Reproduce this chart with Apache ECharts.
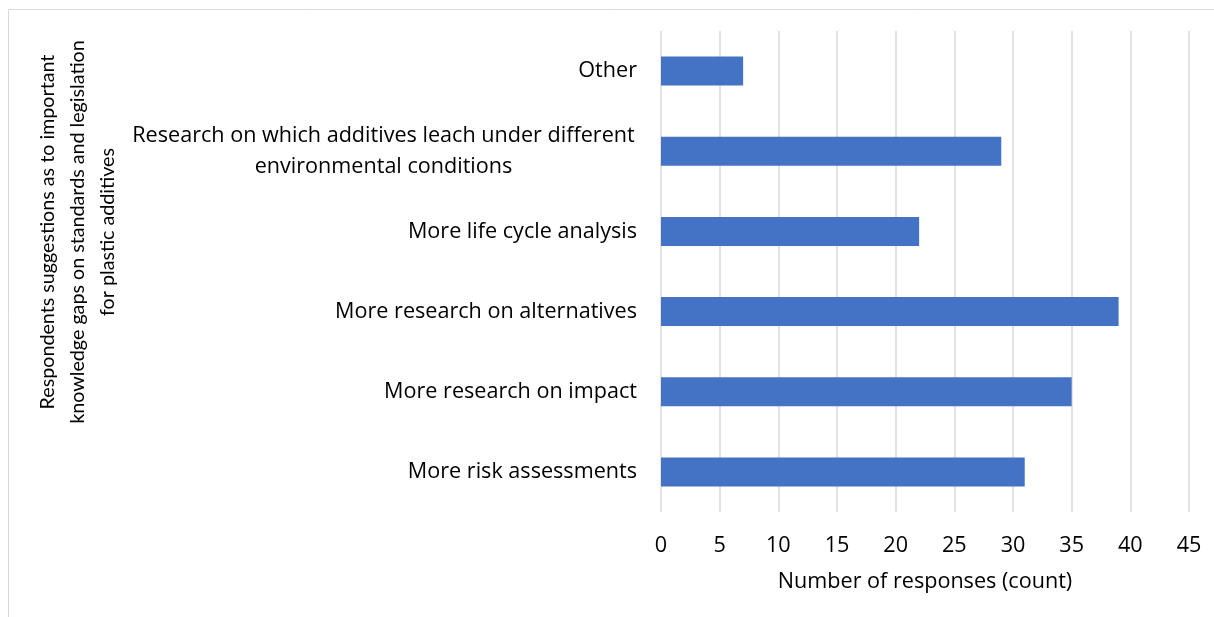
<!DOCTYPE html>
<html>
<head>
<meta charset="utf-8">
<script src="https://cdn.jsdelivr.net/npm/echarts@6/dist/echarts.min.js"></script>
<style>
  html, body { margin: 0; padding: 0; background: #fff; }
  #chart { width: 1214px; height: 617px; }
</style>
</head>
<body>
<div id="chart"></div>
<script>
// top to bottom, as in the figure
const categories = [
  'Other',
  'Research on which additives leach under different\nenvironmental conditions',
  'More life cycle analysis',
  'More research on alternatives',
  'More research on impact',
  'More risk assessments',
]
const responses = [7, 29, 22, 39, 35, 31]
const xTicks = { min: 0, max: 45, interval: 5 }

const FONT = 'Lato'
const WIDE = 'Open Sans'
const SIZE = 21.6
const chart = echarts.init(document.getElementById('chart'))

chart.setOption({
  animation: false,
  grid: { left: 661, right: 25, top: 31, bottom: 105, containLabel: false },
  graphic: [
    {
      type: 'rect',
      shape: { x: 8.5, y: 9.5, width: 1240, height: 640 },
      style: { fill: 'none', stroke: '#d9d9d9', lineWidth: 1 },
      silent: true,
    },
    {
      type: 'text',
      x: 78,
      y: 232,
      rotation: Math.PI / 2,
      style: {
        text: 'Respondents suggestions as to important\nknowledge gaps on standards and legislation\nfor plastic additives',
        font: '19.7px ' + FONT,
        fill: '#000',
        align: 'center',
        verticalAlign: 'middle',
        lineHeight: 30,
      },
    },
  ],
  xAxis: {
    type: 'value',
    min: xTicks.min,
    max: xTicks.max,
    interval: xTicks.interval,
    name: 'Number of responses (count)',
    nameLocation: 'middle',
    nameGap: 59,
    nameTextStyle: { color: '#000', fontSize: SIZE, fontFamily: WIDE },
    axisLine: { show: false },
    axisTick: { show: false },
    axisLabel: { color: '#000', fontSize: SIZE, fontFamily: WIDE, margin: 23 },
    splitLine: { lineStyle: { color: '#d9d9d9', width: 1.5 } },
  },
  yAxis: {
    type: 'category',
    inverse: true,
    data: categories,
    axisLine: { show: false },
    axisTick: { show: false },
    axisLabel: {
      color: '#000',
      fontSize: SIZE,
      fontFamily: WIDE,
      margin: 24,
      lineHeight: 31,
      formatter: (v) => {
        if (v.indexOf('\n') < 0) return v
        const [a, b] = v.split('\n')
        return '{c|' + a + '}\n{c|' + b + '}'
      },
      rich: {
        c: { width: 507, align: 'center', fontSize: SIZE, fontFamily: WIDE, color: '#000', lineHeight: 31 },
      },
    },
  },
  series: [
    {
      type: 'bar',
      data: responses,
      barWidth: 29,
      itemStyle: { color: '#4472c4' },
    },
  ],
})
</script>
</body>
</html>
